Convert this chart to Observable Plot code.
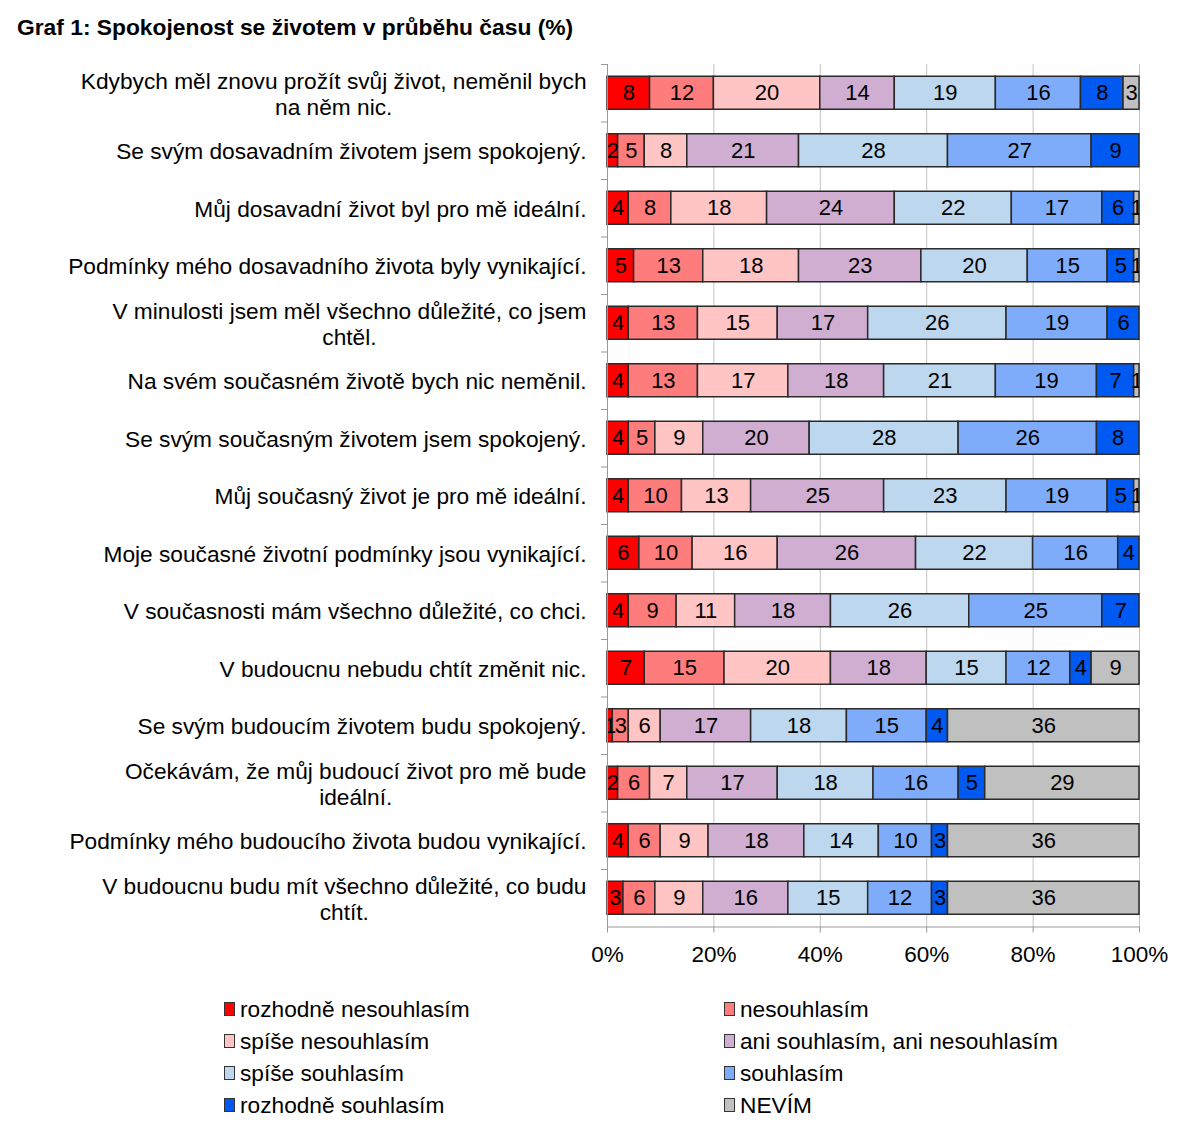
<!DOCTYPE html>
<html>
<head>
<meta charset="utf-8">
<script src="https://cdn.jsdelivr.net/npm/d3@7"></script>
<script src="https://cdn.jsdelivr.net/npm/@observablehq/plot@0.6"></script>
<style>
  html, body { margin: 0; padding: 0; background: #fff; }
  body { width: 1200px; font-family: "Liberation Sans", Arial, Helvetica, sans-serif; color: #000; }
  #title { height: 52px; line-height: 54px; padding-left: 17px; font-weight: bold; font-size: 22.8px; box-sizing: border-box; }
  #chart svg { display: block; }
  #legend { margin-top: 16px; padding-left: 224px; display: grid; grid-template-columns: 500px 460px; grid-auto-rows: 32px; font-size: 22.7px; }
  .item { display: flex; align-items: center; }
  .sw { width: 11px; height: 14px; border: 1px solid #333; box-sizing: border-box; margin-right: 5px; }
</style>
</head>
<body>
<div id="title">Graf 1: Spokojenost se životem v průběhu času (%)</div>
<div id="chart"></div>
<div id="legend"></div>
<script>
const questions = [
  "Kdybych měl znovu prožít svůj život, neměnil bych\nna něm nic.",
  "Se svým dosavadním životem jsem spokojený.",
  "Můj dosavadní život byl pro mě ideální.",
  "Podmínky mého dosavadního života byly vynikající.",
  "V minulosti jsem měl všechno důležité, co jsem\nchtěl.",
  "Na svém současném životě bych nic neměnil.",
  "Se svým současným životem jsem spokojený.",
  "Můj současný život je pro mě ideální.",
  "Moje současné životní podmínky jsou vynikající.",
  "V současnosti mám všechno důležité, co chci.",
  "V budoucnu nebudu chtít změnit nic.",
  "Se svým budoucím životem budu spokojený.",
  "Očekávám, že můj budoucí život pro mě bude\nideální.",
  "Podmínky mého budoucího života budou vynikající.",
  "V budoucnu budu mít všechno důležité, co budu\nchtít."
];

const categories = [
  "rozhodně nesouhlasím", "nesouhlasím", "spíše nesouhlasím",
  "ani souhlasím, ani nesouhlasím", "spíše souhlasím", "souhlasím",
  "rozhodně souhlasím", "NEVÍM"
];

const colors = ["#ff0000", "#ff7c7c", "#ffc4c4", "#d0aed2", "#bdd7ee", "#7facfa", "#0059f0", "#c0c0c0"];

const rozhodneNesouhlasim = [8, 2, 4, 5, 4, 4, 4, 4, 6, 4, 7, 1, 2, 4, 3];
const nesouhlasim         = [12, 5, 8, 13, 13, 13, 5, 10, 10, 9, 15, 3, 6, 6, 6];
const spiseNesouhlasim    = [20, 8, 18, 18, 15, 17, 9, 13, 16, 11, 20, 6, 7, 9, 9];
const aniAni              = [14, 21, 24, 23, 17, 18, 20, 25, 26, 18, 18, 17, 17, 18, 16];
const spiseSouhlasim      = [19, 28, 22, 20, 26, 21, 28, 23, 22, 26, 15, 18, 18, 14, 15];
const souhlasim           = [16, 27, 17, 15, 19, 19, 26, 19, 16, 25, 12, 15, 16, 10, 12];
const rozhodneSouhlasim   = [8, 9, 6, 5, 6, 7, 8, 5, 4, 7, 4, 4, 5, 3, 3];
const nevim               = [3, 0, 1, 1, 0, 1, 0, 1, 0, 0, 9, 36, 29, 36, 36];

const xTicks = [0, 20, 40, 60, 80, 100];

const series = [rozhodneNesouhlasim, nesouhlasim, spiseNesouhlasim, aniAni, spiseSouhlasim, souhlasim, rozhodneSouhlasim, nevim];

const data = [];
questions.forEach((q, i) => {
  categories.forEach((c, j) => {
    data.push({q, cat: c, value: series[j][i]});
  });
});

const marginTop = 12, marginBottom = 50.5;
const innerH = 862.5;
const step = innerH / questions.length;

const chart = Plot.plot({
  width: 1200,
  height: marginTop + innerH + marginBottom,
  marginLeft: 607,
  marginRight: 61,
  marginTop,
  marginBottom,
  style: {fontFamily: '"Liberation Sans", Arial, Helvetica, sans-serif', fontSize: "22px", background: "white", overflow: "visible"},
  x: {domain: [0, 100], axis: null, label: null},
  y: {domain: questions, paddingInner: 0.426, paddingOuter: 0.213, round: false, axis: null, label: null},
  color: {domain: categories, range: colors},
  marks: [
    Plot.gridX(xTicks, {stroke: "#c4c4c4", strokeOpacity: 1, strokeWidth: 1}),
    Plot.barX(data, Plot.stackX({x: "value", y: "q", fill: "cat", stroke: "#2a2a2a", strokeWidth: 1.5})),
    Plot.text(data.filter(d => d.value > 0), Plot.stackX({x: "value", y: "q", z: "cat", text: d => String(d.value), fill: "#000", fontSize: 22, clip: true})),
    Plot.ruleX([0], {stroke: "#999", strokeWidth: 1}),
    Plot.frame({anchor: "bottom", stroke: "#999", strokeWidth: 1}),
    Plot.axisX({ticks: xTicks, tickFormat: d => d + "%", tickSize: 6, tickPadding: 13, fontSize: 22.5, stroke: "#999", fill: "#000", label: null}),
    Plot.axisY({tickSize: 6, tickFormat: () => "", dy: -step / 2, stroke: "#999", label: null}),
    Plot.axisY({tickSize: 0, tickPadding: 21, fontSize: 22.7, lineHeight: 1.15, fill: "#000", lineWidth: 100, label: null})
  ]
});

document.getElementById("chart").appendChild(chart);

// center multi-line category labels within their block (right edge stays at the anchor)
chart.querySelectorAll('g[aria-label="y-axis tick label"] text').forEach(t => {
  const spans = t.querySelectorAll("tspan");
  if (spans.length > 1) {
    let maxW = 0;
    spans.forEach(s => { maxW = Math.max(maxW, s.getComputedTextLength()); });
    t.setAttribute("text-anchor", "middle");
    spans.forEach(s => s.setAttribute("x", String(-maxW / 2)));
  }
});

const legend = document.getElementById("legend");
categories.forEach((c, j) => {
  const item = document.createElement("div");
  item.className = "item";
  const sw = document.createElement("span");
  sw.className = "sw";
  sw.style.background = colors[j];
  const lab = document.createElement("span");
  lab.textContent = c;
  item.appendChild(sw);
  item.appendChild(lab);
  legend.appendChild(item);
});
</script>
</body>
</html>
